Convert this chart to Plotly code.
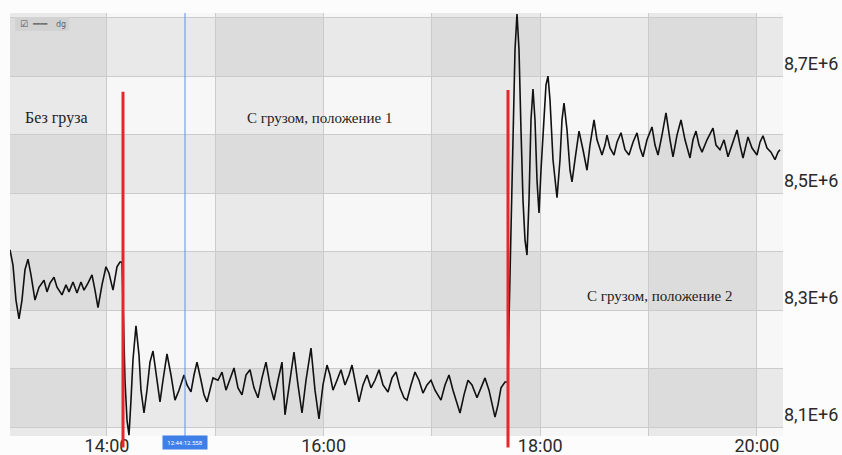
import plotly.graph_objects as go
import pandas as pd

DAY = "2024-01-01"

# elapsed minutes since 13:00 and measured value (x1e6)
minutes = [
    6.26, 7.92, 9.58, 11.25, 12.91, 14.57, 16.23, 17.89, 20.11, 22.33, 25.10, 26.76, 28.42, 30.64,
    32.30, 35.07, 37.28, 38.95, 41.16, 43.38, 45.59, 47.26, 49.47, 51.69, 53.35, 55.01, 57.23, 59.44,
    61.11, 63.32, 65.54, 67.20, 68.31,
    68.86, 69.97, 71.08, 72.19, 73.29, 74.40, 76.06, 77.73, 78.83, 80.50, 82.16, 83.82, 85.48, 87.14,
    89.36, 91.02, 93.24, 95.45, 97.67, 99.89, 102.66, 104.32, 106.53, 108.20, 109.86, 112.07, 113.74,
    115.40, 117.06, 118.72, 121.49,
    123.71, 125.92, 128.14, 130.36, 132.57, 134.79, 137.00, 139.22, 141.44, 143.65, 145.87, 148.08,
    150.30, 152.52, 154.73, 156.95, 158.61, 160.83, 163.60, 165.81, 168.03, 170.25, 173.01, 175.23,
    177.44, 179.66, 181.88, 183.54, 185.20, 187.42, 189.63, 191.85, 194.07, 195.73, 197.94, 199.61,
    201.82, 204.04, 206.25, 208.47, 210.69, 212.90, 215.67, 217.89, 220.10, 222.32, 224.54, 226.20,
    228.41, 230.63, 232.85, 235.06, 237.28, 239.50, 241.71, 245.03, 247.25, 249.47, 251.68, 253.90,
    255.56, 257.78, 259.99, 262.21, 264.98, 267.19, 269.41, 271.63, 273.84, 274.95, 276.61, 278.27,
    280.49, 282.15,
    282.71, 283.81, 284.92, 286.03, 287.14, 288.25, 289.35, 290.46, 291.57, 292.68, 293.79, 294.89,
    296.00, 297.11, 298.22, 299.33, 300.43, 302.10, 303.20, 304.31, 305.42, 307.08, 309.30, 310.96,
    312.07, 313.18, 314.84, 316.50, 317.61, 319.27, 321.49, 323.70, 325.92, 327.58, 329.80, 331.46,
    334.23, 335.89, 337.00, 338.66, 340.88, 342.54, 344.75, 346.97, 349.19, 351.40, 353.62, 355.28,
    356.94, 359.16, 361.93, 363.59, 365.25, 367.47, 369.68, 371.90, 373.56, 375.78, 377.99, 380.21,
    382.98, 384.64, 386.30, 387.97, 389.63, 392.40, 395.72, 397.38, 399.60, 401.82, 404.03, 406.25,
    409.02, 410.68, 412.34, 415.11, 417.33, 420.10, 421.76, 423.42, 425.64, 427.85, 430.07, 431.73,
    432.84,
]
values_e6 = [
    8.403, 8.377, 8.317, 8.285, 8.317, 8.369, 8.387, 8.360, 8.317, 8.339, 8.351, 8.331, 8.346, 8.356,
    8.339, 8.326, 8.343, 8.331, 8.348, 8.329, 8.348, 8.334, 8.346, 8.360, 8.334, 8.304, 8.343, 8.374,
    8.363, 8.334, 8.374, 8.382, 8.382,
    8.317, 8.180, 8.112, 8.086, 8.146, 8.215, 8.273, 8.223, 8.163, 8.124, 8.163, 8.211, 8.230, 8.189,
    8.143, 8.180, 8.225, 8.189, 8.146, 8.163, 8.189, 8.172, 8.160, 8.189, 8.211, 8.180, 8.155,
    8.143, 8.163, 8.184, 8.180,
    8.194, 8.163, 8.184, 8.201, 8.167, 8.155, 8.189, 8.198, 8.167, 8.150, 8.184, 8.211,
    8.172, 8.146, 8.180, 8.211, 8.121, 8.172, 8.228, 8.172, 8.124, 8.180, 8.235, 8.163,
    8.114, 8.172, 8.206, 8.189, 8.163, 8.180, 8.198, 8.172, 8.189, 8.206, 8.172, 8.143,
    8.172, 8.189, 8.167, 8.180, 8.198, 8.172, 8.160, 8.184, 8.194, 8.167, 8.150, 8.146,
    8.172, 8.194, 8.180, 8.158, 8.172, 8.180, 8.163, 8.146, 8.172, 8.189, 8.163, 8.138,
    8.124, 8.155, 8.180, 8.172, 8.150, 8.167, 8.184, 8.163, 8.129, 8.117, 8.138, 8.167,
    8.177, 8.177,
    8.283, 8.454, 8.625, 8.745, 8.806, 8.745, 8.608, 8.488, 8.420, 8.394, 8.488, 8.625,
    8.678, 8.625, 8.522, 8.466, 8.539, 8.642, 8.685, 8.700, 8.659, 8.557, 8.492, 8.557,
    8.625, 8.654, 8.608, 8.539, 8.519, 8.557, 8.606, 8.574, 8.539, 8.582, 8.625, 8.591,
    8.565, 8.582, 8.599, 8.577, 8.565, 8.587, 8.603, 8.574, 8.565, 8.587, 8.603, 8.577,
    8.562, 8.591, 8.613, 8.582, 8.565, 8.599, 8.637, 8.591, 8.562, 8.599, 8.625, 8.591,
    8.560, 8.591, 8.606, 8.582, 8.570, 8.591, 8.611, 8.582, 8.574, 8.591, 8.562, 8.582,
    8.608, 8.582, 8.560, 8.596, 8.577, 8.565, 8.587, 8.598, 8.577, 8.570, 8.557, 8.570,
    8.574,
]

x_range = ["13:06:16", "20:14:30"]
y_range_e6 = [8.0847, 8.8078]
hour_ticks = ["13:00", "14:00", "15:00", "16:00", "17:00", "18:00", "19:00", "20:00"]
hour_labels = ["", "14:00", "", "16:00", "", "18:00", "", "20:00"]
y_ticks_e6 = [8.1, 8.2, 8.3, 8.4, 8.5, 8.6, 8.7, 8.8]
y_labels = ["8,1E+6", "", "8,3E+6", "", "8,5E+6", "", "8,7E+6", ""]
shaded_hours = ["13:00", "15:00", "17:00", "19:00"]
shaded_bands_e6 = [(8.1, 8.2), (8.3, 8.4), (8.5, 8.6), (8.7, 8.8)]
event_times = ["14:08:52", "17:42:09"]
event_tops_e6 = [8.673, 8.676]
cursor_time = "14:43:13"
cursor_label = "12:44:12.558"
series_name = "dg"
texts = ["Без груза", "С грузом, положение 1", "С грузом, положение 2"]
text_times = ["13:32:18", "15:58:00", "19:06:00"]
text_values_e6 = [8.628, 8.628, 8.324]
text_sizes = [16, 15, 15]


def ts(hms):
    return pd.Timestamp(f"{DAY} {hms}")


t0 = ts("13:00:00")
times = [t0 + pd.Timedelta(minutes=m) for m in minutes]
values = [v * 1e6 for v in values_e6]
ymin, ymax = y_range_e6[0] * 1e6, y_range_e6[1] * 1e6

fig = go.Figure()
fig.add_trace(go.Scatter(x=times, y=values, mode="lines", name=series_name,
                         line=dict(color="#111111", width=1.6), showlegend=False))

shapes = []
for h in shaded_hours:
    s = ts(h)
    shapes.append(dict(type="rect", xref="x", yref="paper", x0=s, x1=s + pd.Timedelta(hours=1),
                       y0=0, y1=1, fillcolor="rgba(0,0,0,0.055)", line=dict(width=0), layer="below"))
for lo, hi in shaded_bands_e6:
    shapes.append(dict(type="rect", xref="paper", yref="y", x0=0, x1=1, y0=lo * 1e6, y1=hi * 1e6,
                       fillcolor="rgba(0,0,0,0.055)", line=dict(width=0), layer="below"))
for et, top in zip(event_times, event_tops_e6):
    shapes.append(dict(type="line", xref="x", yref="paper", x0=ts(et), x1=ts(et),
                       y0=-0.027, y1=(top * 1e6 - ymin) / (ymax - ymin),
                       line=dict(color="#e5262b", width=3)))
shapes.append(dict(type="line", xref="x", yref="paper", x0=ts(cursor_time), x1=ts(cursor_time),
                   y0=0, y1=1, line=dict(color="#5b8ff0", width=1)))
# legend box
shapes.append(dict(type="rect", xref="paper", yref="paper", x0=0.0065, x1=0.0765, y0=0.9575, y1=0.9905,
                   fillcolor="#d2d2d2", line=dict(width=0)))

annotations = []
for txt, tt, vv, sz in zip(texts, text_times, text_values_e6, text_sizes):
    annotations.append(dict(x=ts(tt), y=vv * 1e6, xref="x", yref="y", text=txt, showarrow=False,
                            font=dict(family="Liberation Serif", size=sz, color="#222222")))
annotations.append(dict(x=ts(cursor_time), y=0, xref="x", yref="paper", yanchor="top", yshift=1,
                        text=cursor_label, showarrow=False, bgcolor="#3f7fe8", borderpad=3, width=38,
                        font=dict(family="Roboto", size=6, color="#ffffff")))
annotations.append(dict(x=0.0105, y=0.974, xref="paper", yref="paper", xanchor="left", yanchor="middle",
                        text="☑", showarrow=False,
                        font=dict(family="DejaVu Sans", size=9, color="#555555")))
annotations.append(dict(x=0.026, y=0.974, xref="paper", yref="paper", xanchor="left", yanchor="middle",
                        text="━━━━", showarrow=False,
                        font=dict(family="DejaVu Sans", size=6, color="#333333")))
annotations.append(dict(x=0.0565, y=0.972, xref="paper", yref="paper", xanchor="left", yanchor="middle",
                        text=series_name, showarrow=False,
                        font=dict(family="DejaVu Sans", size=8, color="#666666")))

fig.update_layout(
    width=842, height=455, autosize=False,
    margin=dict(l=10, r=59, t=13, b=19, autoexpand=False),
    paper_bgcolor="#fcfcfc", plot_bgcolor="#f7f7f7",
    shapes=shapes, annotations=annotations, showlegend=False,
    xaxis=dict(type="date", range=[ts(x_range[0]), ts(x_range[1])], automargin=False,
               tickmode="array", tickvals=[ts(h) for h in hour_ticks], ticktext=hour_labels,
               ticklabelstandoff=-3,
               showgrid=True, gridcolor="#cbcbcb", gridwidth=1, zeroline=False, showline=False,
               ticks="", tickfont=dict(family="Roboto", size=18, color="#2a2a2a")),
    yaxis=dict(range=[ymin, ymax], side="right", tickmode="array", automargin=False,
               tickvals=[v * 1e6 for v in y_ticks_e6], ticktext=y_labels,
               ticklabelposition="outside top",
               showgrid=True, gridcolor="#cbcbcb", gridwidth=1, zeroline=False, showline=False,
               ticks="", tickfont=dict(family="Roboto", size=18, color="#2a2a2a")),
)

fig.write_html("out.html", config={"displayModeBar": False},
               post_script="document.body.style.margin='0';document.body.style.overflow='hidden';")
